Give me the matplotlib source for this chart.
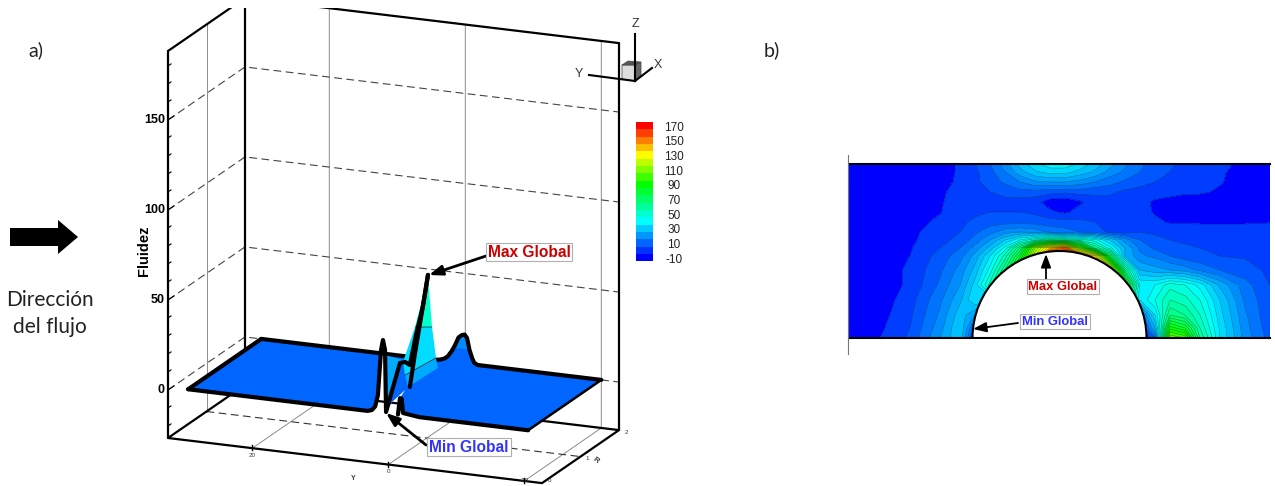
import numpy as np
import matplotlib
matplotlib.use('Agg')
import matplotlib.pyplot as plt
from matplotlib.colors import LinearSegmentedColormap, Normalize
from matplotlib.patches import Wedge, Rectangle, Polygon

plt.rcParams['font.family'] = ['Liberation Sans', 'DejaVu Sans']

# --- panel a) surface as (Y, Z) along an R row
front_left_y = [30, 3.6, 2.97, 2.5, 2.1, 1.64, 1.35, 1.05, 0.9, 0.2, -1.15, -1.9, -2.6, -3.5, -4.5, -5.27]
front_left_z = [0, 0, 0.8, 3, 9.5, 34.7, 40.4, 35, 0.6, 10.4, 28.8, 29.7, 28.3, 45.4, 61.4, 79.6]
front_back_y = [-5.27, -4.5, -3.36, -2.6]
front_back_z = [79.6, 61.4, 35.3, 16.1]
front_right_y = [-0.85, -1.15, -1.4, -1.6, -4, -20]
front_right_z = [0, 9.3, 9, 1.2, 0, 0]
notch_y = [0.9, 0, -1.9, -1.15, -0.85]
notch_z = [0.6, 6.7, 14.1, 9.3, 0]
back_y = [30, 4.5, 3.7, 3, 2.55, 2, 1.5, 1, 0.5, 0.1, -0.25, -0.6, -1, -1.3, -1.8, -20]
back_z = [0, 0, 0.5, 1.5, 3, 6, 9.6, 14, 15.6, 16, 14.3, 8, 3.5, 1, 0, 0]
ridge_top_y = [1.7, 1, 0.5, 0.1, -0.25, -0.5]
ridge_top_z = [8, 14, 15.6, 16, 14.3, 8]
fin_low_y = [-2.33, -6.73, -6.44, -1.89]
fin_low_z = [16, 28.6, 34, 22.4]
fin_mid_y = [-1.89, -1.6, -3.36, -5.86, -6.44]
fin_mid_z = [22.4, 29.6, 49.8, 50.9, 34]
fin_top_y = [-3.36, -5.27, -5.86]
fin_top_z = [49.8, 78.4, 50.9]
fin_side_y = [1.2, -1.6, -0.1, 0.9]
fin_side_z = [32.2, 30.7, 10.6, 4.5]

z_ticks = [0, 50, 100, 150]
y_ticks = [20, 0, -20]
r_ticks = [0, 1, 2]

# --- colour bar
cbar_levels = [-10, 0, 10, 20, 30, 40, 50, 60, 70, 80, 90, 100, 110, 120, 130, 140, 150, 160, 170]
cbar_labels = [170, 150, 130, 110, 90, 70, 50, 30, 10, -10]

# --- panel b) field on a coarse grid
grid_x = [849, 880, 910, 940, 960, 975, 990, 1005, 1020, 1035, 1050, 1065, 1080, 1095, 1110, 1125, 1140, 1155, 1170, 1185, 1200, 1220, 1245, 1270]
grid_y = [164, 172, 182, 192, 202, 212, 222, 232, 240, 248, 256, 270, 285, 300, 315, 328, 338]
field_164 = [-5, -5, -5, -3, 1, 5, 10, 18, 27, 34, 38, 38, 34, 28, 22, 16, 11, 8, 5.5, 4, 3, 1, -1, -4]
field_172 = [-5, -5, -5, -3, 1, 4, 8, 15, 23, 29, 32, 32, 28, 24, 18, 14, 10, 7, 5, 4, 2, 0.5, -1.5, -4]
field_182 = [-5, -5, -5, -2, 1, 4, 7, 11, 15, 19, 20, 20, 18, 15, 12, 9, 7, 5, 4, 3, 1, 0.5, -3, -4]
field_192 = [-5, -5, -4, -1, 2, 3, 5, 6, 8, 8, 7, 6, 7, 6, 6, 4, 3, 3, 2, 1, 1, -1, -3, -4]
field_202 = [-5, -5, -3, -0.5, 2, 3, 3, 4, 3, 2, -3, -4, -1, 3, 3, 3, 2, -1, -2, -3, -4, -4, -4, -4]
field_212 = [-5, -5, -3, -0.3, 3, 4, 5, 5, 5, 4, 1, -1, 2, 4, 4, 3, 2, -0.5, -1, -3, -4, -5, -5, -5]
field_222 = [-5, -4, -2, 1, 4, 6, 8, 8, 8, 8, 7, 7, 6, 5, 2, 4, 3, 1, -0.5, -0.5, -0.5, -0.5, -0.5, -0.2]
field_232 = [-5, -4, -1, 2, 5, 9, 13, 18, 20, 18, 14, 12, 10, 8, 4, 3, 5, 4, 3, 2.5, 2, 2, 2, 2]
field_240 = [-5, -4, -1, 3, 7, 12, 20, 30, 40, 50, 60, 56, 48, 42, 30, 18, 10, 7, 5, 4, 3.5, 3, 3, 3]
field_248 = [-5, -3, -0.5, 5, 10, 17, 27, 42, 65, 110, 135, 150, 100, 60, 42, 25, 14, 9, 7, 6, 5, 4.5, 4, 4]
field_256 = [-5, -3, 0, 7, 13, 22, 35, 52, 78, 120, 170, 175, 160, 130, 70, 25, 16, 14, 10, 7, 6, 5, 4.5, 4]
field_270 = [-5, -3, 1, 9, 17, 27, 42, 65, 100, 140, 170, 175, 170, 160, 130, 60, 25, 22, 20, 18, 14, 10, 7, 4]
field_285 = [-5, -3, 1, 11, 20, 32, 52, 75, 100, 120, 140, 140, 140, 130, 120, 90, 40, 40, 48, 45, 38, 24, 12, 5]
field_300 = [-5, -3, 3, 14, 24, 35, 30, 30, 30, 30, 30, 30, 30, 40, 60, 70, 35, 45, 55, 52, 45, 30, 14, 6]
field_315 = [-5, -2, 4, 16, 28, 20, 10, 10, 10, 10, 10, 10, 10, 10, 10, 10, 10, 35, 65, 60, 50, 32, 16, 6]
field_328 = [-5, -1, 5, 18, 30, 8, 0, 0, 0, 0, 0, 0, 0, 0, 0, 0, 0, 25, 88, 80, 55, 34, 17, 7]
field_338 = [-5, 0, 6, 20, 30, 0, -5, -5, -5, -5, -5, -5, -5, -5, -5, -5, -5, 10, 105, 100, 60, 35, 18, 8]
field = np.array([field_164, field_172, field_182, field_192, field_202, field_212, field_222, field_232,
                  field_240, field_248, field_256, field_270, field_285, field_300, field_315, field_328, field_338])

cmap = LinearSegmentedColormap.from_list('tec', [(0, '#0000ff'), (50 / 180, '#00ffff'), (100 / 180, '#00ff00'),
                                                 (140 / 180, '#ffff00'), (1, '#ff0000')])
norm = Normalize(-10, 170)


def project(y, r, z):
    """Oblique view of the box, in picture pixels."""
    y, r, z = np.asarray(y, float), np.asarray(r, float), np.asarray(z, float)
    d = 32.4 - y
    return 168 + 6.8 * d + 38.5 * r, 438 + 0.82 * d - 26.5 * r - 1.8 * (z + 26.7)


def line3d(ax, y, r, z, **kw):
    px, py = project(y, r, z)
    ax.plot(px, py, solid_capstyle='round', solid_joinstyle='round', **kw)


def poly3d(ax, y, r, z, **kw):
    px, py = project(y, r, z)
    ax.add_patch(Polygon(np.column_stack([px, py]), closed=True, **kw))


def tag(ax, x, y, text, color, size):
    ax.text(x, y, text, color=color, fontsize=size, fontweight='bold', ha='center', va='center', zorder=12,
            bbox=dict(boxstyle='square,pad=0.12', fc='white', ec='#b0b0b0', lw=0.8))


def arrow(ax, start, end, lw=1.5):
    ax.annotate('', xy=end, xytext=start, zorder=11,
                arrowprops=dict(arrowstyle='-|>,head_width=0.3,head_length=0.8', color='black', lw=lw, shrinkA=0, shrinkB=0))


fig = plt.figure(figsize=(12.75, 4.86), dpi=100)
ax = fig.add_axes([0, 0, 1, 1])
ax.set_xlim(0, 1275)
ax.set_ylim(486, 0)
ax.axis('off')

# left hand notes
for x, y, s, size in [(36, 50, 'a)', 14), (772, 50, 'b)', 14), (50, 300, 'Dirección', 15), (50, 327, 'del flujo', 15)]:
    ax.text(x, y, s, family='Lato', fontsize=size, ha='center', va='center', color='#222222')
ax.add_patch(Rectangle((10, 228), 49, 18, fc='black', ec='none'))
ax.add_patch(Polygon([(58, 220), (78, 237), (58, 254)], fc='black', ec='none'))

# box of the 3D plot
Ymax, Ymin, Ztop, Zbot = 32.4, -22.6, 188.3, -26.7
thin = dict(color='#8c8c8c', lw=0.7, zorder=1)
for y in y_ticks:
    line3d(ax, [y, y, y], [0, 2, 2], [Zbot, Zbot, Ztop], **thin)
line3d(ax, [Ymax, Ymax, Ymax], [1, 1, 1], [Zbot, Ztop, Ztop], **thin)
for z in z_ticks:
    line3d(ax, [Ymax, Ymax, Ymin], [0, 2, 2], [z, z, z], color='#444444', lw=0.8, ls=(0, (7, 4)), zorder=1)
line3d(ax, [Ymax, Ymin], [1, 1], [Zbot, Zbot], color='#333333', lw=0.8, ls=(0, (7, 4)), zorder=1)
frame = dict(color='black', lw=1.6, zorder=2)
line3d(ax, [Ymax, Ymax, Ymin, Ymin, Ymax], [2, 0, 0, 2, 2], [Zbot] * 5, **frame)
line3d(ax, [Ymax, Ymax], [0, 0], [Zbot, Ztop], **frame)
line3d(ax, [Ymax, Ymax], [2, 2], [Zbot, Ztop], **frame)
line3d(ax, [Ymin, Ymin], [2, 2], [Zbot, Ztop], **frame)
line3d(ax, [Ymax, Ymax, Ymin], [0, 2, 2], [Ztop] * 3, **frame)
ax.add_patch(Rectangle((150, 0), 500, 8, fc='white', ec='none', zorder=3))

# z ticks and labels on the front left edge
for z in np.arange(-20, 190, 10):
    px, py = project(Ymax, 0, z)
    ax.plot([px, px + (6 if z % 50 == 0 else 3)], [py, py - (4 if z % 50 == 0 else 2)], color='black', lw=0.8, zorder=2)
for z in z_ticks:
    px, py = project(Ymax, 0, z)
    ax.text(px - 3, py, str(z), fontsize=9, fontweight='bold', ha='right', va='center')
ax.text(144, 251, 'Fluidez', fontsize=10.5, fontweight='bold', rotation=90, ha='center', va='center')

for y in y_ticks:
    px, py = project(y, 0, Zbot)
    ax.plot([px, px], [py - 3, py + 2], color='black', lw=1)
    ax.text(px, min(py + 7, 480), str(y), fontsize=4.5, ha='center', va='center', color='#333333')
ax.text(353, 478, 'Y', fontsize=5, fontweight='bold', ha='center', va='center', color='#333333')
for r in r_ticks:
    px, py = project(Ymin, r, Zbot)
    ax.text(px + 7, min(py + 2, 480), str(r), fontsize=4.5, ha='center', va='center', color='#333333')
ax.text(596, 460, 'R', fontsize=5.5, fontweight='bold', rotation=-35, ha='center', va='center', color='#333333')

# surface
plate_blue = '#0066ff'
n_left = front_left_y.index(0.9) + 1
plate_y = back_y + front_right_y[::-1][:-1] + notch_y[::-1] + front_left_y[:n_left][::-1]
plate_r = [2] * len(back_y) + [0.1] * (len(plate_y) - len(back_y))
plate_z = back_z + front_right_z[::-1][:-1] + notch_z[::-1] + front_left_z[:n_left][::-1]
poly3d(ax, plate_y, plate_r, plate_z, fc=plate_blue, ec='none', zorder=4)
poly3d(ax, ridge_top_y, [2] * 6, ridge_top_z, fc='#008cff', ec='none', zorder=4)
line3d(ax, [30, 30], [0.1, 2], [0, 0], color='black', lw=3, zorder=5)
line3d(ax, [-20, -20], [0.1, 2], [0, 0], color='black', lw=1.8, zorder=5)
line3d(ax, back_y, [2] * len(back_y), back_z, color='black', lw=3, zorder=5)
poly3d(ax, fin_side_y, [0.1] * 4, fin_side_z, fc='#00aaff', ec='none', zorder=6)
poly3d(ax, fin_low_y, [0.1] * 4, fin_low_z, fc='#00aaff', ec='none', zorder=6)
poly3d(ax, fin_mid_y, [0.1] * 5, fin_mid_z, fc='#00ddff', ec='none', zorder=6)
poly3d(ax, fin_top_y, [0.1] * 3, fin_top_z, fc='#00ffcc', ec='none', zorder=6)
line3d(ax, fin_low_y[2:], [0.1, 0.1], fin_low_z[2:], color='#222222', lw=0.5, zorder=6)
line3d(ax, [fin_top_y[0], fin_top_y[2]], [0.1, 0.1], [fin_top_z[0], fin_top_z[2]], color='#222222', lw=0.5, zorder=6)
for ys, zs in [(front_left_y, front_left_z), (front_back_y, front_back_z), (front_right_y, front_right_z)]:
    line3d(ax, ys, [0.1] * len(ys), zs, color='black', lw=3, zorder=7)

tag(ax, 529, 252, 'Max Global', '#cc0000', 11.2)
tag(ax, 469, 447, 'Min Global', '#3333ff', 11.2)
arrow(ax, (486, 256), (429, 275), lw=2)
arrow(ax, (426, 445), (386, 413), lw=2)

# axes triad
ax.add_patch(Polygon([(622, 65), (635, 65), (635, 81), (622, 79)], fc='#dddddd', ec='#555555', lw=0.6, zorder=4))
ax.add_patch(Polygon([(635, 65), (641, 62), (641, 76), (635, 81)], fc='#666666', ec='#444444', lw=0.5, zorder=4))
ax.add_patch(Polygon([(622, 65), (628, 61), (641, 62), (635, 65)], fc='#555555', ec='#444444', lw=0.5, zorder=4))
for end in [(635, 34), (589, 75), (652, 68)]:
    ax.plot([635, end[0]], [81, end[1]], color='black', lw=1.5, zorder=5)
for x, y, s in [(635, 24, 'Z'), (579, 74, 'Y'), (658, 65, 'X')]:
    ax.text(x, y, s, fontsize=9, ha='center', va='center', color='#333333')

# colour bar
for lev in cbar_levels:
    py = 257.5 - (lev + 10) * 0.7333
    ax.barh(py, 17, left=636, height=7.4, color=cmap(norm(lev)), lw=0)
for lab in cbar_labels:
    ax.text(674, 259.5 - (lab + 10) * 0.7333, str(lab), fontsize=8.5, ha='center', va='center', color='#222222')

# panel b)
levels = np.r_[-25, np.arange(0, 180, 5)]
ax.contourf(grid_x, grid_y, field, levels=levels, cmap=cmap, norm=norm, zorder=2)
ax.contour(grid_x, grid_y, field, levels=levels[1:], colors='black', linewidths=0.3, alpha=0.55, zorder=3)
ax.add_patch(Wedge((1059.5, 338), 87, 180, 360, fc='white', ec='black', lw=1.5, zorder=4))
ax.add_patch(Rectangle((965, 339), 190, 12, fc='white', ec='none', zorder=5))
ax.plot([849, 1270], [164, 164], color='black', lw=1.5, zorder=6)
ax.plot([849, 973], [338, 338], color='black', lw=1.5, zorder=6)
ax.plot([1146, 1270], [338, 338], color='black', lw=1.5, zorder=6)
ax.plot([848, 848], [155, 354], color='#777777', lw=0.8, zorder=6)
tag(ax, 1063, 286.5, 'Max Global', '#cc0000', 9.4)
tag(ax, 1055, 321.5, 'Min Global', '#3333ff', 9.4)
arrow(ax, (1046, 279), (1046, 254), lw=1.3)
arrow(ax, (1018, 323), (973, 329), lw=1.3)

fig.savefig('out.png', dpi=100)
